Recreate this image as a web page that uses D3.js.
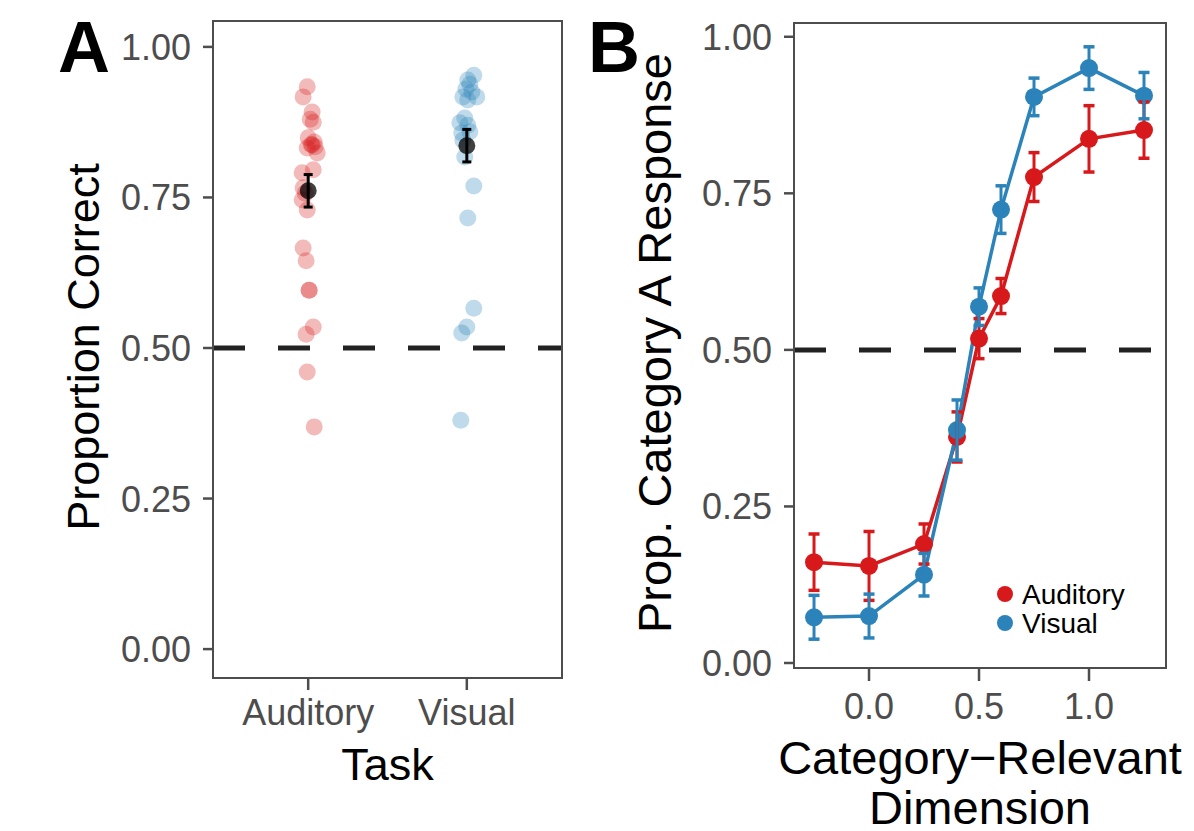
<!DOCTYPE html>
<html>
<head>
<meta charset="utf-8">
<script src="https://cdn.jsdelivr.net/npm/d3@7"></script>
<style>
body { margin: 0; background: #fff; }
text { font-family: "Liberation Sans", Arial, sans-serif; }
</style>
</head>
<body>
<div id="chart"></div>
<script>
// panel A: per-participant proportion correct, jitter in category units
var tasks = ["Auditory", "Visual"];
var audAcc = [0.934, 0.917, 0.892, 0.880, 0.875, 0.849, 0.842, 0.837, 0.832, 0.834, 0.824, 0.838,
              0.796, 0.791, 0.766, 0.757, 0.746, 0.729, 0.666, 0.645, 0.596, 0.596, 0.535, 0.523, 0.460, 0.369];
var audJit = [-0.006, -0.032, 0.025, 0.013, 0.032, 0.0, 0.038, 0.025, -0.006, 0.044, 0.057, 0.019,
              0.032, -0.038, -0.032, -0.019, -0.038, -0.006, -0.032, -0.013, 0.006, 0.006, 0.032, -0.013, -0.006, 0.038];
var visAcc = [0.953, 0.945, 0.938, 0.930, 0.925, 0.917, 0.917, 0.912, 0.882, 0.874, 0.870, 0.857, 0.859,
              0.845, 0.817, 0.769, 0.716, 0.566, 0.535, 0.525, 0.380];
var visJit = [0.044, 0.006, 0.019, -0.006, 0.032, -0.025, 0.063, 0.006, -0.013, -0.044, 0.006, -0.032, 0.019,
              -0.025, -0.013, 0.044, 0.006, 0.044, 0.0, -0.032, -0.038];
var taskMean = [0.761, 0.836];
var taskSE = [0.027, 0.027];

// panel B: psychometric curves
var dimLevels = [-0.25, 0.0, 0.25, 0.4, 0.5, 0.6, 0.75, 1.0, 1.25];
var audResp = [0.161, 0.155, 0.190, 0.361, 0.518, 0.586, 0.776, 0.837, 0.851];
var audRespSE = [0.045, 0.055, 0.032, 0.040, 0.032, 0.028, 0.039, 0.053, 0.045];
var visResp = [0.073, 0.075, 0.141, 0.372, 0.569, 0.724, 0.904, 0.950, 0.906];
var visRespSE = [0.035, 0.035, 0.034, 0.048, 0.030, 0.038, 0.030, 0.034, 0.037];

var yTicks = [0, 0.25, 0.5, 0.75, 1];
var xTicksB = [0, 0.5, 1];
var seriesNames = ["Auditory", "Visual"];
var colors = ["#d7191c", "#2b83ba"];

var W = 1194, H = 831;
var frame = "#4d4d4d";

var svg = d3.select("#chart").append("svg")
  .attr("width", W).attr("height", H);

function box(g, x0, x1, y0, y1) {
  g.append("rect")
    .attr("x", x0).attr("y", y0)
    .attr("width", x1 - x0).attr("height", y1 - y0)
    .attr("fill", "none").attr("stroke", frame).attr("stroke-width", 2);
}

function yAxis(g, y, x0) {
  yTicks.forEach(function(t) {
    g.append("line").attr("x1", x0 - 10).attr("x2", x0)
      .attr("y1", y(t)).attr("y2", y(t))
      .attr("stroke", frame).attr("stroke-width", 2.5);
    g.append("text").attr("x", x0 - 22).attr("y", y(t)).attr("dy", "0.36em")
      .attr("text-anchor", "end").attr("font-size", 36).attr("fill", frame)
      .text(d3.format(".2f")(t));
  });
}

// ---------- panel A ----------
var gA = svg.append("g");
var xA = d3.scalePoint().domain(tasks).range([213, 562]).padding(0.6);
var stepA = xA.step();
var yA = d3.scaleLinear().domain([-0.048, 1.043]).range([678, 21]);

// dashed chance line
gA.append("line")
  .attr("x1", 213).attr("x2", 562)
  .attr("y1", yA(0.5)).attr("y2", yA(0.5))
  .attr("stroke", "#222").attr("stroke-width", 5)
  .attr("stroke-dasharray", "32,33");

var ptsA = [];
audAcc.forEach(function(v, i) { ptsA.push({task: "Auditory", v: v, j: audJit[i], c: colors[0]}); });
visAcc.forEach(function(v, i) { ptsA.push({task: "Visual", v: v, j: visJit[i], c: colors[1]}); });

gA.selectAll("circle.pt").data(ptsA).enter().append("circle")
  .attr("class", "pt")
  .attr("cx", function(d) { return xA(d.task) + d.j * stepA; })
  .attr("cy", function(d) { return yA(d.v); })
  .attr("r", 8.5)
  .attr("fill", function(d) { return d.c; })
  .attr("fill-opacity", 0.3);

tasks.forEach(function(t, i) {
  var cx = xA(t);
  gA.append("circle").attr("cx", cx).attr("cy", yA(taskMean[i])).attr("r", 8.5)
    .attr("fill", "#000").attr("fill-opacity", 0.75);
  var lo = yA(taskMean[i] - taskSE[i]), hi = yA(taskMean[i] + taskSE[i]);
  gA.append("line").attr("x1", cx).attr("x2", cx).attr("y1", lo).attr("y2", hi)
    .attr("stroke", "#000").attr("stroke-width", 3);
  [lo, hi].forEach(function(yy) {
    gA.append("line").attr("x1", cx - 4.5).attr("x2", cx + 4.5).attr("y1", yy).attr("y2", yy)
      .attr("stroke", "#000").attr("stroke-width", 3);
  });
});

box(gA, 213, 562, 21, 678);
yAxis(gA, yA, 213);

tasks.forEach(function(t) {
  gA.append("line").attr("x1", xA(t)).attr("x2", xA(t)).attr("y1", 678).attr("y2", 690)
    .attr("stroke", frame).attr("stroke-width", 2.5);
  gA.append("text").attr("x", xA(t)).attr("y", 725).attr("text-anchor", "middle")
    .attr("font-size", 36).attr("fill", frame).text(t);
});

gA.append("text").attr("x", 387.5).attr("y", 780).attr("text-anchor", "middle")
  .attr("font-size", 45).attr("fill", "#000").text("Task");
gA.append("text").attr("transform", "translate(99,347) rotate(-90)")
  .attr("text-anchor", "middle").attr("font-size", 45).attr("fill", "#000")
  .text("Proportion Correct");
gA.append("text").attr("x", 58).attr("y", 72).attr("font-size", 72)
  .attr("font-weight", "bold").attr("fill", "#000").text("A");

// ---------- panel B ----------
var gB = svg.append("g");
var xB = d3.scaleLinear().domain([-0.341, 1.35]).range([794, 1166]);
var yB = d3.scaleLinear().domain([-0.008, 1.022]).range([668, 23]);

gB.append("line")
  .attr("x1", 794).attr("x2", 1166)
  .attr("y1", yB(0.5)).attr("y2", yB(0.5))
  .attr("stroke", "#222").attr("stroke-width", 5)
  .attr("stroke-dasharray", "32,33");

var series = [
  {name: "Auditory", c: colors[0], vals: audResp, se: audRespSE},
  {name: "Visual", c: colors[1], vals: visResp, se: visRespSE}
];

var line = d3.line()
  .x(function(d) { return xB(d[0]); })
  .y(function(d) { return yB(d[1]); });

series.forEach(function(s) {
  var pts = dimLevels.map(function(x, i) { return [x, s.vals[i]]; });
  gB.append("path").datum(pts).attr("d", line)
    .attr("fill", "none").attr("stroke", s.c).attr("stroke-width", 3.5);
});

series.forEach(function(s) {
  gB.selectAll(null).data(dimLevels).enter().append("circle")
    .attr("cx", function(d) { return xB(d); })
    .attr("cy", function(d, i) { return yB(s.vals[i]); })
    .attr("r", 9).attr("fill", s.c);
});

series.forEach(function(s) {
  dimLevels.forEach(function(x, i) {
    var cx = xB(x);
    var lo = yB(s.vals[i] - s.se[i]), hi = yB(s.vals[i] + s.se[i]);
    gB.append("line").attr("x1", cx).attr("x2", cx).attr("y1", lo).attr("y2", hi)
      .attr("stroke", s.c).attr("stroke-width", 3);
    [lo, hi].forEach(function(yy) {
      gB.append("line").attr("x1", cx - 5.5).attr("x2", cx + 5.5).attr("y1", yy).attr("y2", yy)
        .attr("stroke", s.c).attr("stroke-width", 3.5);
    });
  });
});

box(gB, 794, 1166, 23, 668);
yAxis(gB, yB, 794);

xTicksB.forEach(function(t) {
  gB.append("line").attr("x1", xB(t)).attr("x2", xB(t)).attr("y1", 668).attr("y2", 681)
    .attr("stroke", frame).attr("stroke-width", 2.5);
  gB.append("text").attr("x", xB(t)).attr("y", 719).attr("text-anchor", "middle")
    .attr("font-size", 36).attr("fill", frame).text(d3.format(".1f")(t));
});

gB.append("text").attr("x", 980).attr("y", 774).attr("text-anchor", "middle")
  .attr("font-size", 47).attr("fill", "#000").text("Category\u2212Relevant");
gB.append("text").attr("x", 980).attr("y", 824).attr("text-anchor", "middle")
  .attr("font-size", 47).attr("fill", "#000").text("Dimension");
gB.append("text").attr("transform", "translate(671,343) rotate(-90)")
  .attr("text-anchor", "middle").attr("font-size", 47).attr("fill", "#000")
  .text("Prop. Category A Response");
gB.append("text").attr("x", 588).attr("y", 72).attr("font-size", 72)
  .attr("font-weight", "bold").attr("fill", "#000").text("B");

// legend
var leg = gB.append("g").attr("transform", "translate(1005,594)");
seriesNames.forEach(function(n, i) {
  leg.append("circle").attr("cx", 0).attr("cy", i * 29).attr("r", 8).attr("fill", colors[i]);
  leg.append("text").attr("x", 17).attr("y", i * 29).attr("dy", "0.36em")
    .attr("font-size", 28).attr("fill", "#000").text(n);
});
</script>
</body>
</html>
